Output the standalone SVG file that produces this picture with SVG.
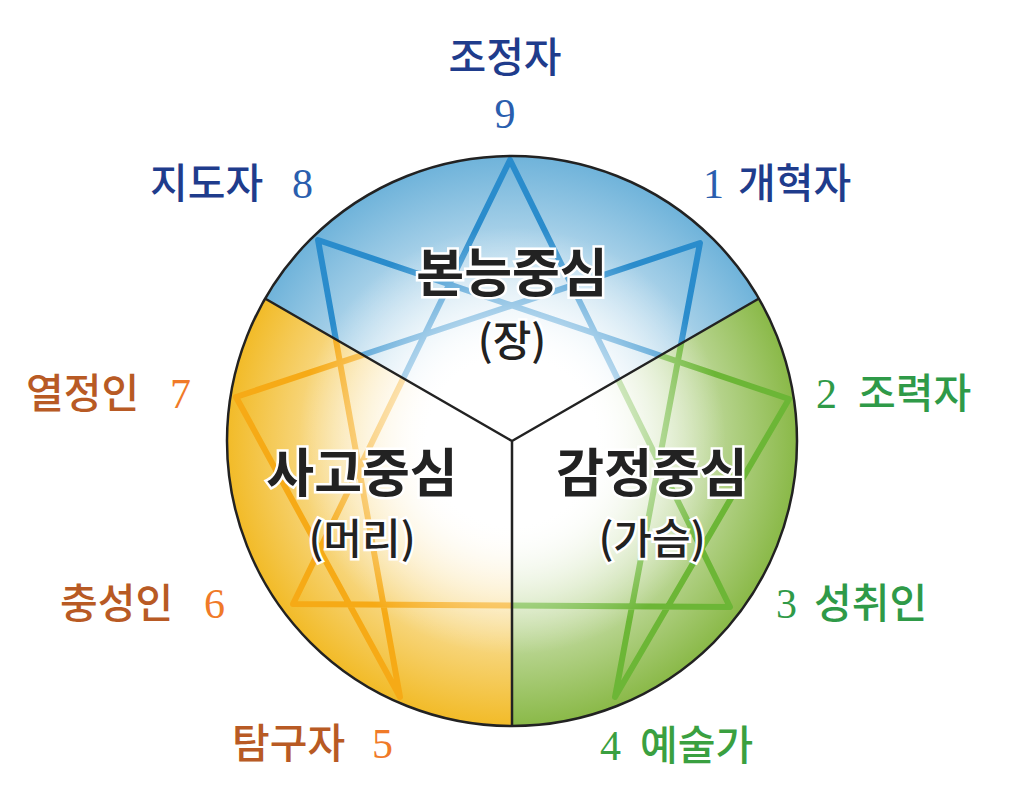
<svg xmlns="http://www.w3.org/2000/svg" width="1017" height="802" viewBox="0 0 1017 802">
<style>
.lbl{font-family:"Noto Sans CJK KR","Liberation Sans",sans-serif;font-size:41px;font-weight:500}
.num{font-family:"Liberation Serif",serif;font-size:42px}
.ctr{font-family:"Noto Sans CJK KR",sans-serif;font-size:52px;font-weight:700;fill:#222;stroke:#fff;stroke-width:5;paint-order:stroke;text-anchor:middle}
.sub{font-family:"Noto Sans CJK KR",sans-serif;font-size:42px;font-weight:500;fill:#222;stroke:#fff;stroke-width:5;paint-order:stroke;text-anchor:middle}
.blue{fill:#1f3c8c}.blue2{fill:#2a5eae}.grn{fill:#2f9a48}.grn2{fill:#3aa040}.org{fill:#b85a24}.org2{fill:#f07a28}
.star{fill:none;stroke-width:6;stroke-linejoin:round}
</style>
<defs>
<radialGradient id="gb" gradientUnits="userSpaceOnUse" cx="512" cy="441" r="285"><stop offset="0.3" stop-color="#ffffff"/><stop offset="1" stop-color="#6fb3da"/></radialGradient>
<radialGradient id="gg" gradientUnits="userSpaceOnUse" cx="512" cy="441" r="285"><stop offset="0.3" stop-color="#ffffff"/><stop offset="1" stop-color="#8ab948"/></radialGradient>
<radialGradient id="gy" gradientUnits="userSpaceOnUse" cx="512" cy="441" r="285"><stop offset="0.3" stop-color="#ffffff"/><stop offset="1" stop-color="#f2bb28"/></radialGradient>
<radialGradient id="gw" gradientUnits="userSpaceOnUse" cx="512" cy="441" r="285"><stop offset="0" stop-color="#fff" stop-opacity="1"/><stop offset="0.3" stop-color="#fff" stop-opacity="0.9"/><stop offset="0.75" stop-color="#fff" stop-opacity="0"/></radialGradient>
<path id="sT" d="M512,441 L265,298.5 A285,285 0 0 1 759,298.5 Z"/>
<path id="sR" d="M512,441 L759,298.5 A285,285 0 0 1 512,726 Z"/>
<path id="sL" d="M512,441 L512,726 A285,285 0 0 1 265,298.5 Z"/>
<clipPath id="cT"><use href="#sT"/></clipPath>
<clipPath id="cR"><use href="#sR"/></clipPath>
<clipPath id="cL"><use href="#sL"/></clipPath>
<g id="star"><path d="M510,160 L730,607 L293,604 Z M700,243 L615,697 L789,399 L318,240 L400,697 L236,397 Z"/></g>
</defs>
<g id="circle">
<use href="#sT" fill="url(#gb)"/>
<use href="#sR" fill="url(#gg)"/>
<use href="#sL" fill="url(#gy)"/>
<use href="#star" class="star" stroke="#2a8ccc" clip-path="url(#cT)"/>
<use href="#star" class="star" stroke="#6cb636" clip-path="url(#cR)"/>
<use href="#star" class="star" stroke="#f6aa16" clip-path="url(#cL)"/>
<circle cx="512" cy="441" r="285" fill="url(#gw)"/>
</g>
<g id="connectors" stroke="#222" stroke-width="2.5" fill="none">
<circle cx="512" cy="441" r="285"/>
<path d="M512,441 L265,298.5 M512,441 L759,298.5 M512,441 L512,726"/>
</g>
<g id="center-top"><text class="ctr" x="512" y="292">본능중심</text><text class="sub" x="512" y="356">(장)</text></g>
<g id="center-left"><text class="ctr" x="362" y="492">사고중심</text><text class="sub" x="362" y="554">(머리)</text></g>
<g id="center-right"><text class="ctr" x="652" y="492">감정중심</text><text class="sub" x="652" y="554">(가슴)</text></g>
<g id="n9"><text class="lbl blue" x="505" y="72" text-anchor="middle">조정자</text><text class="num blue2" x="505" y="128" text-anchor="middle">9</text></g>
<g id="n8"><text class="lbl blue" x="150" y="198">지도자</text><text class="num blue2" x="292" y="198">8</text></g>
<g id="n1"><text class="num blue2" x="703" y="198">1</text><text class="lbl blue" x="738" y="198">개혁자</text></g>
<g id="n2"><text class="num grn" x="816" y="408">2</text><text class="lbl grn" x="858" y="408">조력자</text></g>
<g id="n3"><text class="num grn" x="776" y="618">3</text><text class="lbl grn" x="814" y="618">성취인</text></g>
<g id="n4"><text class="num grn2" x="600" y="760">4</text><text class="lbl grn2" x="640" y="760">예술가</text></g>
<g id="n5"><text class="lbl org" x="232" y="758">탐구자</text><text class="num org2" x="372" y="758">5</text></g>
<g id="n6"><text class="lbl org" x="60" y="618">충성인</text><text class="num org2" x="204" y="618">6</text></g>
<g id="n7"><text class="lbl org" x="26" y="408">열정인</text><text class="num org2" x="170" y="408">7</text></g>
</svg>
